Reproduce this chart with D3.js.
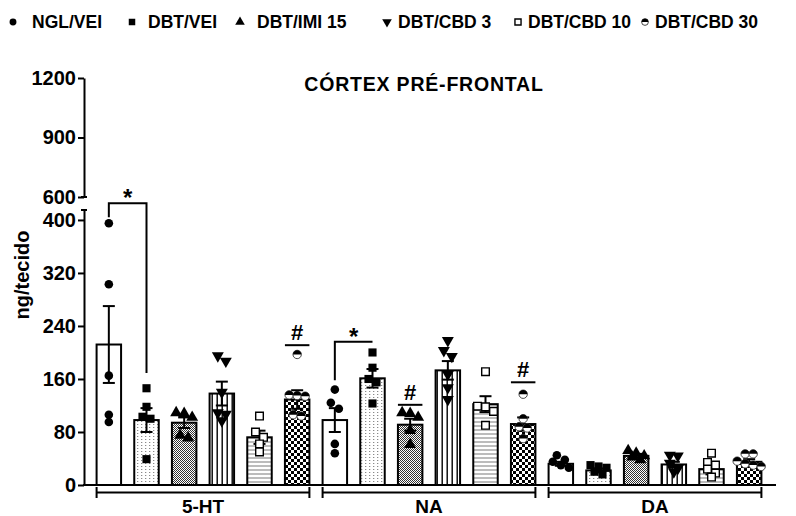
<!DOCTYPE html>
<html>
<head>
<meta charset="utf-8">
<script src="https://cdn.jsdelivr.net/npm/d3@7"></script>
<style>
  body { margin: 0; background: #fff; }
  text { font-family: "Liberation Sans", Arial, sans-serif; font-weight: bold; fill: #000; }
</style>
</head>
<body>
<script>
// groups and treatments
var groups = ["5-HT", "NA", "DA"];
var treatments = ["NGL/VEI", "DBT/VEI", "DBT/IMI 15", "DBT/CBD 3", "DBT/CBD 10", "DBT/CBD 30"];

// bar means (ng/tecido)
var mean5HT = [212, 98, 94, 138, 72, 129];
var meanNA  = [98, 161, 91, 173, 122, 92];
var meanDA  = [32, 22, 44, 31, 24, 35];

// standard errors
var sem5HT = [58, 18, 8, 18, 10, 14];
var semNA  = [18, 14, 9, 14, 12, 10];
var semDA  = [3, 3, 3, 4, 8, 4];

// individual animals
var pts5HT = [
  [395, 303, 165, 106, 95],
  [146, 118, 103, 100, 39],
  [109, 108, 102, 75, 71],
  [195, 187, 140, 109, 107, 97],
  [104, 80, 72, 62, 50],
  [197, 136, 135, 134, 106, 104]
];
var ptsNA = [
  [144, 124, 115, 62, 48],
  [200, 177, 160, 155, 123],
  [109, 108, 102, 82, 61],
  [218, 203, 194, 167, 147, 129],
  [171, 119, 118, 111, 90],
  [137, 100, 88, 86, 70]
];
var ptsDA = [
  [45, 38, 35, 30, 26],
  [30, 28, 26, 20, 16],
  [52, 48, 44, 42, 38],
  [45, 44, 33, 25, 20],
  [48, 34, 30, 24, 18, 12],
  [47, 47, 36, 32, 30, 28]
];

// axis ticks
var lowTicks = [0, 80, 160, 240, 320, 400];
var highTicks = [600, 900, 1200];

// significance marks
var starMarks = [
  {group: "5-HT", from: 0, to: 1, level: 425, leftDrop: 404, rightDrop: 169},
  {group: "NA", from: 0, to: 1, level: 216, leftDrop: 158, rightDrop: null}
];
var hashMarks = [
  {group: "5-HT", bar: 5, level: 211},
  {group: "NA", bar: 2, level: 121},
  {group: "NA", bar: 5, level: 155}
];

var means = [mean5HT, meanNA, meanDA];
var sems = [sem5HT, semNA, semDA];
var points = [pts5HT, ptsNA, ptsDA];

var width = 796, height = 516;
var axisX = 84;

var svg = d3.select("body").append("svg")
    .attr("width", width)
    .attr("height", height);

// patterns for the bar fills
var defs = svg.append("defs");
var p;
p = defs.append("pattern").attr("id", "pVei").attr("patternUnits", "userSpaceOnUse").attr("width", 4).attr("height", 3);
p.append("rect").attr("width", 4).attr("height", 3).attr("fill", "#fff");
p.append("rect").attr("x", 1).attr("y", 1).attr("width", 1.3).attr("height", 1).attr("fill", "#8a8a8a");

p = defs.append("pattern").attr("id", "pImi").attr("patternUnits", "userSpaceOnUse").attr("width", 2).attr("height", 2);
p.append("rect").attr("width", 2).attr("height", 2).attr("fill", "#fff");
p.append("rect").attr("width", 1).attr("height", 1).attr("fill", "#333");
p.append("rect").attr("x", 1).attr("y", 1).attr("width", 1).attr("height", 1).attr("fill", "#333");

p = defs.append("pattern").attr("id", "pCbd3").attr("patternUnits", "userSpaceOnUse").attr("width", 5).attr("height", 5);
p.append("rect").attr("width", 5).attr("height", 5).attr("fill", "#fff");
p.append("rect").attr("x", 1.5).attr("width", 1.4).attr("height", 5).attr("fill", "#000");

p = defs.append("pattern").attr("id", "pCbd10").attr("patternUnits", "userSpaceOnUse").attr("width", 4).attr("height", 4);
p.append("rect").attr("width", 4).attr("height", 4).attr("fill", "#fff");
p.append("rect").attr("y", 1.5).attr("width", 4).attr("height", 1).attr("fill", "#7a7a7a");

p = defs.append("pattern").attr("id", "pCbd30").attr("patternUnits", "userSpaceOnUse").attr("width", 6).attr("height", 6);
p.append("rect").attr("width", 6).attr("height", 6).attr("fill", "#fff");
p.append("rect").attr("width", 3).attr("height", 3).attr("fill", "#000");
p.append("rect").attr("x", 3).attr("y", 3).attr("width", 3).attr("height", 3).attr("fill", "#000");

var fills = ["#fff", "url(#pVei)", "url(#pImi)", "url(#pCbd3)", "url(#pCbd10)", "url(#pCbd30)"];

// scales
var yLow = d3.scaleLinear().domain([0, 415]).range([485, 210]);
var yHigh = d3.scaleLinear().domain([600, 1200]).range([197, 78]);

var x0 = d3.scaleBand().domain(groups).range([90, 768]).padding(0);
var x1 = d3.scaleBand().domain(treatments).range([0, x0.bandwidth()])
    .paddingInner(0.35).paddingOuter(0.175);

function barX(g, i) { return x0(groups[g]) + x1(treatments[i]); }
function barC(g, i) { return barX(g, i) + x1.bandwidth() / 2; }

// markers
function drawMarker(sel, t, cx, cy, s) {
  var k = s || 1;
  if (t === 0) {
    sel.append("path").attr("d", d3.symbol(d3.symbolCircle, 58 * k * k)())
      .attr("transform", "translate(" + cx + "," + cy + ")").attr("fill", "#000");
  } else if (t === 1) {
    sel.append("path").attr("d", d3.symbol(d3.symbolSquare, 66 * k * k)())
      .attr("transform", "translate(" + cx + "," + cy + ")").attr("fill", "#000");
  } else if (t === 2) {
    sel.append("path").attr("d", d3.symbol(d3.symbolTriangle, 62 * k * k)())
      .attr("transform", "translate(" + cx + "," + cy + ")").attr("fill", "#000");
  } else if (t === 3) {
    sel.append("path").attr("d", d3.symbol(d3.symbolTriangle, 62 * k * k)())
      .attr("transform", "translate(" + cx + "," + cy + ") rotate(180)").attr("fill", "#000");
  } else if (t === 4) {
    sel.append("path").attr("d", d3.symbol(d3.symbolSquare, 58 * k * k)())
      .attr("transform", "translate(" + cx + "," + cy + ")")
      .attr("fill", "#fff").attr("stroke", "#000").attr("stroke-width", 1.4);
  } else {
    var r = 4.2 * k;
    sel.append("circle").attr("cx", cx).attr("cy", cy).attr("r", r)
      .attr("fill", "#fff").attr("stroke", "#333").attr("stroke-width", 0.9);
    sel.append("path")
      .attr("d", "M" + (cx - r) + "," + cy + "A" + r + "," + r + " 0 0 1 " + (cx + r) + "," + cy + "Z")
      .attr("fill", "#000");
  }
}

// spread points that would overlap horizontally, GraphPad style
function spread(vals) {
  var sorted = vals.slice().sort(function(a, b) { return b - a; });
  var out = [], cluster = [];
  function flush() {
    var n = cluster.length;
    cluster.forEach(function(v, k) { out.push({v: v, dx: (k - (n - 1) / 2) * 8}); });
    cluster = [];
  }
  sorted.forEach(function(v) {
    if (cluster.length && yLow(v) - yLow(cluster[0]) > 6) flush();
    cluster.push(v);
  });
  flush();
  return out;
}

var chart = svg.append("g");

// bars
groups.forEach(function(gName, g) {
  treatments.forEach(function(t, i) {
    chart.append("rect")
      .attr("x", barX(g, i))
      .attr("y", yLow(means[g][i]))
      .attr("width", x1.bandwidth())
      .attr("height", yLow(0) - yLow(means[g][i]))
      .attr("fill", fills[i])
      .attr("stroke", "#000")
      .attr("stroke-width", 2);
  });
});

// error bars
groups.forEach(function(gName, g) {
  treatments.forEach(function(t, i) {
    var c = barC(g, i), hi = yLow(means[g][i] + sems[g][i]), lo = yLow(means[g][i] - sems[g][i]);
    chart.append("line").attr("x1", c).attr("x2", c).attr("y1", hi).attr("y2", lo)
      .attr("stroke", "#000").attr("stroke-width", 2);
    [hi, lo].forEach(function(yy) {
      chart.append("line").attr("x1", c - 6).attr("x2", c + 6).attr("y1", yy).attr("y2", yy)
        .attr("stroke", "#000").attr("stroke-width", 2);
    });
  });
});

// points
var dots = svg.append("g");
groups.forEach(function(gName, g) {
  treatments.forEach(function(t, i) {
    spread(points[g][i]).forEach(function(d) {
      drawMarker(dots, i, barC(g, i) + d.dx, yLow(d.v));
    });
  });
});

// y axis, lower and upper segments
var axLow = svg.append("g").attr("transform", "translate(" + axisX + ",0)")
  .call(d3.axisLeft(yLow).tickValues(lowTicks).tickFormat(d3.format("d")).tickSize(6).tickSizeOuter(0).tickPadding(2));
var axHigh = svg.append("g").attr("transform", "translate(" + axisX + ",0)")
  .call(d3.axisLeft(yHigh).tickValues(highTicks).tickFormat(d3.format("d")).tickSize(6).tickSizeOuter(0).tickPadding(2));
[axLow, axHigh].forEach(function(ax) {
  ax.selectAll("path, line").attr("stroke", "#000").attr("stroke-width", 2);
  ax.selectAll("text").style("font-size", "20px").style("font-family", "Liberation Sans, Arial, sans-serif")
    .style("font-weight", "bold").attr("fill", "#000");
});
// break caps
svg.append("line").attr("x1", axisX - 3).attr("x2", axisX + 3).attr("y1", yLow.range()[1]).attr("y2", yLow.range()[1])
  .attr("stroke", "#000").attr("stroke-width", 2);
svg.append("line").attr("x1", axisX - 3).attr("x2", axisX + 3).attr("y1", yHigh.range()[0]).attr("y2", yHigh.range()[0])
  .attr("stroke", "#000").attr("stroke-width", 2);

// x axis baseline
svg.append("line").attr("x1", axisX - 1).attr("x2", 776).attr("y1", yLow(0)).attr("y2", yLow(0))
  .attr("stroke", "#000").attr("stroke-width", 2);

// group brackets and labels
groups.forEach(function(gName, g) {
  var a = barX(g, 0), b = barX(g, treatments.length - 1) + x1.bandwidth();
  svg.append("path")
    .attr("d", "M" + a + ",487V498M" + a + ",492.5H" + b + "M" + b + ",487V498")
    .attr("fill", "none").attr("stroke", "#000").attr("stroke-width", 2);
  svg.append("text").attr("x", (a + b) / 2).attr("y", 513).attr("text-anchor", "middle")
    .style("font-size", "19px").text(gName);
});

// significance: asterisks
starMarks.forEach(function(s) {
  var g = groups.indexOf(s.group);
  var xa = barC(g, s.from), xb = barC(g, s.to), yl = yLow(s.level);
  var d = "M" + xa + "," + yLow(s.leftDrop) + "V" + yl + "H" + xb;
  if (s.rightDrop !== null) d += "V" + yLow(s.rightDrop);
  svg.append("path").attr("d", d).attr("fill", "none").attr("stroke", "#000").attr("stroke-width", 2);
  svg.append("text").attr("x", (xa + xb) / 2).attr("y", yl + 3).attr("text-anchor", "middle")
    .style("font-size", "24px").text("*");
});

// significance: hashes
hashMarks.forEach(function(h) {
  var g = groups.indexOf(h.group);
  var a = barX(g, h.bar), b = a + x1.bandwidth(), yl = yLow(h.level);
  svg.append("line").attr("x1", a).attr("x2", b).attr("y1", yl).attr("y2", yl)
    .attr("stroke", "#000").attr("stroke-width", 2);
  svg.append("text").attr("x", (a + b) / 2).attr("y", yl - 5).attr("text-anchor", "middle")
    .style("font-size", "22px").text("#");
});

// title
svg.append("text").attr("x", 424).attr("y", 91).attr("text-anchor", "middle")
  .style("font-size", "19.5px").style("letter-spacing", "0.8px").text("CÓRTEX PRÉ-FRONTAL");

// y axis title
svg.append("text").attr("transform", "translate(29,275) rotate(-90)").attr("text-anchor", "middle")
  .style("font-size", "20px").text("ng/tecido");

// legend
var legSymX = [13, 132, 240, 387, 518, 645];
var legTextX = [32, 148, 257, 398, 528, 655];
var leg = svg.append("g");
treatments.forEach(function(t, i) {
  drawMarker(leg, i, legSymX[i], 22, 0.8);
  leg.append("text").attr("x", legTextX[i]).attr("y", 28).style("font-size", "17.5px").text(t);
});
</script>
</body>
</html>
